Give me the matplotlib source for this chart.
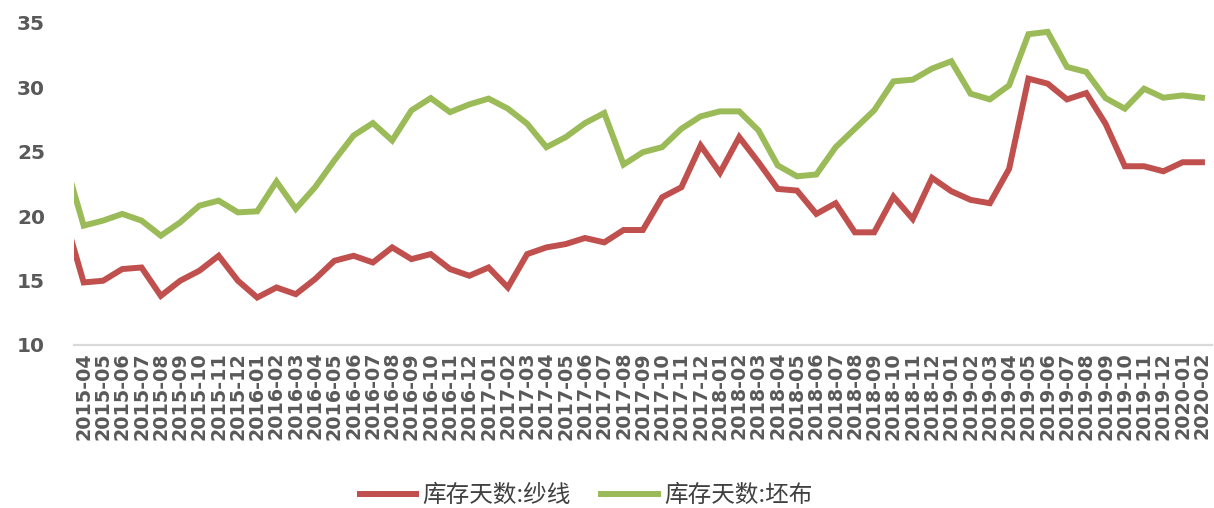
import matplotlib.pyplot as plt
import numpy as np

plt.rcParams['font.family'] = ['DejaVu Sans']

# 月份 (2015-03 为前一期, 图中被左边界截断)
months = ['2015-03'] + ['%d-%02d' % (y, m) for y in range(2015, 2021) for m in range(1, 13)
                        if (y, m) >= (2015, 4) and (y, m) <= (2020, 2)]

# 库存天数:纱线
yarn = [20.0, 14.85, 14.98, 15.89, 16.01, 13.81, 14.98, 15.76, 16.92, 14.98, 13.68,
        14.46, 13.94, 15.11, 16.53, 16.92, 16.4, 17.57, 16.66, 17.05, 15.89,
        15.37, 16.01, 14.46, 17.05, 17.57, 17.83, 18.3, 17.96, 18.92, 18.92,
        21.46, 22.24, 25.48, 23.36, 26.13, 24.18, 22.11, 21.98, 20.17, 21.0,
        18.74, 18.74, 21.51, 19.78, 22.97, 21.93, 21.26, 21.0, 23.67, 30.67,
        30.28, 29.06, 29.55, 27.17, 23.87, 23.87, 23.48, 24.18, 24.18]

# 库存天数:坯布
cloth = [24.4, 19.26, 19.65, 20.17, 19.65, 18.48, 19.51, 20.81, 21.2, 20.29, 20.37,
         22.68, 20.56, 22.24, 24.32, 26.26, 27.22, 25.87, 28.21, 29.16, 28.07,
         28.67, 29.12, 28.34, 27.17, 25.35, 26.13, 27.22, 28.0, 24.0, 24.96,
         25.35, 26.78, 27.74, 28.13, 28.13, 26.65, 23.93, 23.09, 23.23, 25.35,
         26.78, 28.21, 30.46, 30.59, 31.45, 32.02, 29.5, 29.06, 30.15, 34.12,
         34.3, 31.58, 31.19, 29.16, 28.34, 29.89, 29.19, 29.37, 29.19]

x = np.arange(len(months)) - 1  # 2015-04 -> 0

fig = plt.figure(figsize=(12.14, 5.08), dpi=100)
ax = fig.add_axes([0.061, 0.321, 0.937, 0.634])

ax.plot(x, yarn, color='#C0504D', lw=4.3, label='库存天数:纱线', solid_joinstyle='miter')
ax.plot(x, cloth, color='#9BBB59', lw=4.3, label='库存天数:坯布', solid_joinstyle='miter')

ax.set_xlim(-0.5, len(months) - 1.5)
ax.set_ylim(10, 35)
ax.set_yticks([10, 15, 20, 25, 30, 35])
ax.set_xticks(x[1:])
ax.set_xticklabels(months[1:], rotation=90)

for s in ['top', 'right', 'left']:
    ax.spines[s].set_visible(False)
ax.spines['bottom'].set_color('#D9D9D9')
ax.spines['bottom'].set_linewidth(1.6)

ax.tick_params(axis='y', length=0, pad=21, labelsize=14.5, labelcolor='#595959')
ax.tick_params(axis='x', length=0, pad=5, labelsize=13.8, labelcolor='#595959')
for lab in ax.get_yticklabels() + ax.get_xticklabels():
    lab.set_fontweight('bold')

fig.legend(loc='center', bbox_to_anchor=(586 / 1214, 0.024), ncol=2, frameon=False,
           prop={'family': ['Noto Sans CJK SC', 'DejaVu Sans'], 'size': 17},
           labelcolor='#404040', handlelength=2.4, handletextpad=0.25, columnspacing=1.3)

fig.savefig('out.png', dpi=100)
